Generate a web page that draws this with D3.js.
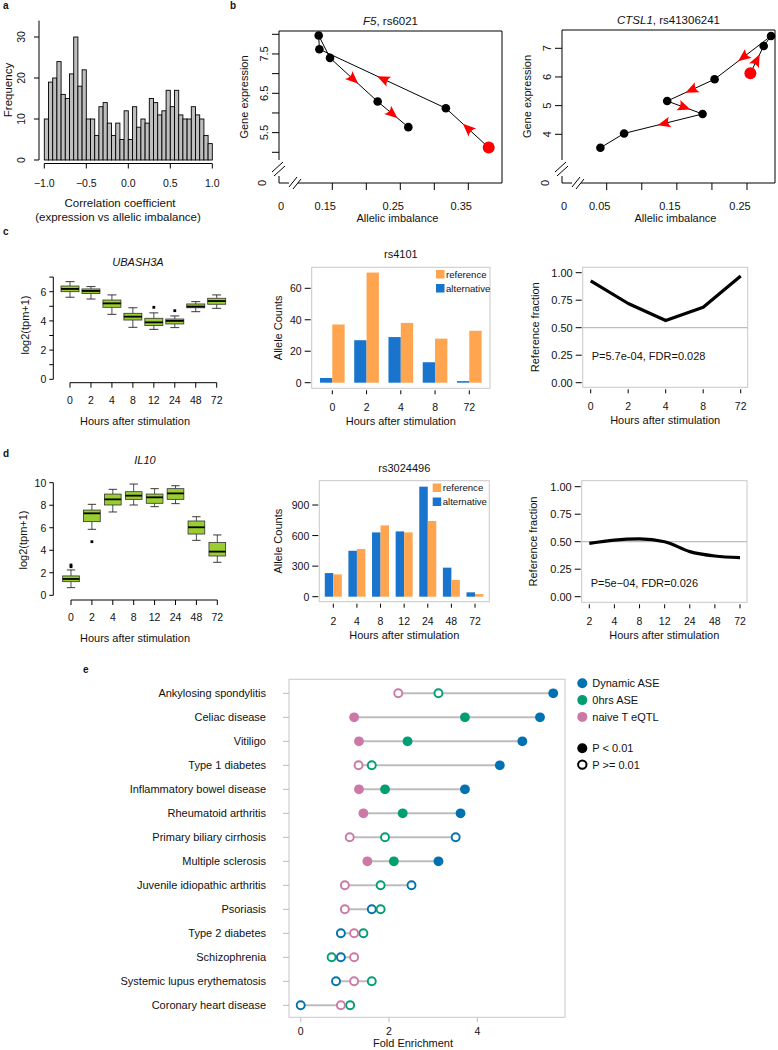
<!DOCTYPE html>
<html><head><meta charset="utf-8">
<script src="https://cdn.jsdelivr.net/npm/d3@7"></script>
<style>body{margin:0;background:#fff}svg{display:block;font-family:"Liberation Sans",Arial,Helvetica,sans-serif}</style>
</head><body><svg id="fig" width="778" height="1050"></svg>
<script>
// ================= DATA =================
// a: histogram of correlation coefficients
const histStart = -1.0, histStep = 0.05;
const histFreq = [10,19,20,24,16,15,21,30,18,22,10,10,6,13,14,9,6,9,5,12,5,13,8,10,9,15,14,11,12,17,13,17,11,10,10,13,11,10,6,4];
const histXTicks = [-1.0,-0.5,0.0,0.5,1.0];
const histYTicks = [0,10,20,30];

// b: trajectories (first point = red start)
const f5Imb  = [0.380,0.317,0.131,0.130,0.1466,0.2167,0.2618];
const f5Expr = [5.12,6.12,7.62,7.97,7.40,6.29,5.64];
const f5Arrow = [true,true,false,false,true,true];
const f5XTicks = [0.15,0.20,0.25,0.30,0.35];
const f5XLabels = [0.15,0.25,0.35];
const f5YTicks = [5.0,5.5,6.0,6.5,7.0,7.5,8.0];
const f5YLabels = [5.5,6.5,7.5];

const ctslImb  = [0.2548,0.2738,0.2843,0.2038,0.1362,0.1867,0.0748,0.041];
const ctslExpr = [6.13,7.08,7.43,5.92,5.16,4.71,4.03,3.53];
const ctslArrow = [true,false,true,true,true,true,false];
const ctslXTicks = [0.05,0.10,0.15,0.20,0.25];
const ctslXLabels = [0.05,0.15,0.25];
const ctslYTicks = [4,5,6,7];

// c/d boxplots
const hours8 = ["0","2","4","8","12","24","48","72"];
const ubLo  = [5.62,5.50,4.45,3.56,3.42,3.54,4.63,4.86];
const ubQ1  = [6.00,5.87,4.93,4.06,3.68,3.79,4.90,5.14];
const ubMed = [6.19,6.05,5.20,4.29,3.90,4.00,4.98,5.36];
const ubQ3  = [6.39,6.19,5.43,4.52,4.18,4.13,5.16,5.55];
const ubHi  = [6.69,6.35,5.78,4.90,4.55,4.34,5.32,5.78];
const ubOut = [[],[],[],[],[4.93],[4.70],[],[]];
const ubYTicks = [0,1,2,3,4,5,6,7];
const ubYLabels = [0,2,4,6];

const ilLo  = [0.68,5.86,7.40,8.02,7.87,8.14,4.88,2.93];
const ilQ1  = [1.21,6.54,8.02,8.52,8.17,8.52,5.44,3.49];
const ilMed = [1.45,7.28,8.52,8.85,8.70,9.05,6.04,3.88];
const ilQ3  = [1.72,7.57,8.99,9.20,8.99,9.47,6.60,4.70];
const ilHi  = [2.25,8.08,9.41,9.88,9.47,9.73,6.98,5.36];
const ilOut = [[2.54,2.69],[4.76],[],[],[],[],[],[]];
const ilYTicks = [0,2,4,6,8,10];

// c/d allele counts
const rs4101Hours = ["0","2","4","8","72"];
const rs4101Ref = [37,70,38,28,33];
const rs4101Alt = [3,27,29,13,1];
const rs4101YTicks = [0,20,40,60];
const rs4101Frac = [0.925,0.72,0.565,0.685,0.97];

const rs3024496Hours = ["2","4","8","12","24","48","72"];
const rs3024496Ref = [219,468,700,631,743,164,26];
const rs3024496Alt = [232,451,631,641,1080,285,43];
const rs3024496YTicks = [0,300,600,900];
const rs3024496Frac = [0.485,0.515,0.525,0.50,0.41,0.37,0.355];
const fracYTicks = [0,0.25,0.5,0.75,1.0];

// e: enrichment
const diseases = ["Ankylosing spondylitis","Celiac disease","Vitiligo","Type 1 diabetes","Inflammatory bowel disease","Rheumatoid arthritis","Primary biliary cirrhosis","Multiple sclerosis","Juvenile idiopathic arthritis","Psoriasis","Type 2 diabetes","Schizophrenia","Systemic lupus erythematosis","Coronary heart disease"];
const dynamicASE = [5.72,5.42,5.02,4.51,3.72,3.62,3.51,3.12,2.51,1.61,0.91,0.91,0.80,0.00];
const dynamicSig = [1,1,1,1,1,1,0,1,0,0,0,0,0,0];
const hrs0ASE    = [3.12,3.72,2.42,1.61,1.91,2.31,1.91,2.11,1.81,1.81,1.42,0.70,1.61,1.12];
const hrs0Sig    = [0,1,1,0,1,1,0,1,0,0,0,0,0,0];
const naiveEQTL  = [2.21,1.21,1.32,1.31,1.32,1.42,1.11,1.51,1.00,1.00,1.21,1.21,1.21,0.91];
const naiveSig   = [0,1,1,0,1,1,0,1,0,0,0,0,0,0];
const seriesNames = ["Dynamic ASE","0hrs ASE","naive T eQTL"];
const seriesColors = ["#0072B2","#009E73","#CC79A7"];
const eXTicks = [0,2,4];

// ================= HELPERS =================
const svg = d3.select("#fig");
svg.append("rect").attr("width",778).attr("height",1050).attr("fill","#fff");

function txt(g,x,y,s,o={}){
  const t=g.append("text").attr("x",x).attr("y",y).text(s)
    .attr("font-size",o.size||11).attr("fill",o.fill||"#111")
    .attr("text-anchor",o.anchor||"middle");
  if(o.italic) t.attr("font-style","italic");
  if(o.bold) t.attr("font-weight","bold");
  if(o.rotate) t.attr("x",null).attr("y",null).attr("transform",`translate(${x},${y}) rotate(-90)`);
  if(o.baseline) t.attr("dominant-baseline",o.baseline);
  return t;
}
function line(g,x1,y1,x2,y2,c="#000",w=1){
  return g.append("line").attr("x1",x1).attr("y1",y1).attr("x2",x2).attr("y2",y2).attr("stroke",c).attr("stroke-width",w);
}
// left axis ticks (R style)
function yTicks(g,scale,ticks,x,o={}){
  const len=o.len||5, gap=o.gap||3, labs=o.labels||ticks;
  ticks.forEach(t=>{
    const y=scale(t);
    line(g,x-len,y,x-(o.inset||0),y,o.color||"#000");
    if(labs.includes(t)){
      const s=o.fmt?o.fmt(t):String(t);
      if(o.rotate) txt(g,x-len-gap,y,s,{size:o.size||10.5,rotate:true});
      else txt(g,x-len-gap,y,s,{size:o.size||10.5,anchor:"end",baseline:"central"});
    }
  });
}
function xTicks(g,scale,ticks,y,o={}){
  const len=o.len||5, labs=o.labels||ticks;
  ticks.forEach(t=>{
    const x=scale(t);
    line(g,x,y+(o.inset||0),x,y+len,o.color||"#000");
    if(labs.includes(t)){
      const s=o.fmt?o.fmt(t):String(t);
      txt(g,x+(o.dx||0),o.labelY,s,{size:o.size||10.5});
    }
  });
}

// ================= PANEL LABELS =================
[["a",3,9],["b",230,9],["c",3,235],["d",3,457],["e",83,673]].forEach(([s,x,y])=>txt(svg,x,y,s,{bold:true,size:10,anchor:"start"}));

// ================= PANEL A =================
{
  const g=svg.append("g");
  const x=d3.scaleLinear().domain([-1,1]).range([44.3,212.3]);
  const y=d3.scaleLinear().domain([0,10]).range([160,119]);
  g.selectAll("rect.h").data(histFreq).join("rect")
    .attr("x",(d,i)=>x(histStart+i*histStep)).attr("width",x(histStep)-x(0))
    .attr("y",d=>y(d)).attr("height",d=>y(0)-y(d))
    .attr("fill","#bebebe").attr("stroke","#000").attr("stroke-width",0.9);
  line(g,x(-1),163.5,x(1),163.5);
  xTicks(g,x,histXTicks,163.5,{len:5,labelY:187,fmt:d3.format(".1f"),size:10.5});
  line(g,39,y(0),39,y(34));
  yTicks(g,y,histYTicks,39,{len:5,gap:9,rotate:true,size:10.5});
  txt(g,12,90,"Frequency",{rotate:true,size:11.5});
  txt(g,120,207,"Correlation coefficient",{size:11.5});
  txt(g,118,221,"(expression vs allelic imbalance)",{size:11.5});
}

// ================= PANEL B =================
function arrowHead(g,x,y,ang){
  g.append("path").attr("d","M6,0 L-7,-5.5 Q-3,0 -7,5.5 Z")
    .attr("transform",`translate(${x},${y}) rotate(${ang*180/Math.PI})`).attr("fill","#ff0000");
}
function trajPanel(o){
  const g=svg.append("g");
  const {bx0,bx1,by0,by1,x,y}=o;
  // box with broken axes
  line(g,bx0,by0,bx1,by0); line(g,bx1,by0,bx1,by1); line(g,bx0+19,by1,bx1,by1);
  line(g,bx0,by0,bx0,by1-23);
  line(g,bx0,by1-7,bx0,by1); line(g,bx0,by1,bx0+10,by1);
  line(g,bx0-7,by1-11,bx0+4,by1-21); line(g,bx0-5,by1-7,bx0+6,by1-17);
  line(g,bx0+10,by1+4,bx0+18,by1-6); line(g,bx0+14,by1+6,bx0+22,by1-4);
  txt(g,bx0-13,by1,"0",{size:11,rotate:true});
  txt(g,bx0+2,by1+27,"0",{size:11});
  yTicks(g,y,o.yt,bx0,{len:7,gap:4,rotate:true,labels:o.yl,size:11,fmt:o.yfmt});
  xTicks(g,x,o.xt,by1,{len:7,labelY:by1+27,labels:o.xl,dx:-7,size:11});
  txt(g,(bx0+bx1)/2+7,by1+39,"Allelic imbalance",{size:11});
  txt(g,o.ylabX,(by0+by1)/2-10,"Gene expression",{size:11,rotate:true});
  const t=g.append("text").attr("x",(bx0+bx1)/2).attr("y",by0-6).attr("text-anchor","middle").attr("font-size",11.5).attr("fill","#111");
  t.append("tspan").attr("font-style","italic").text(o.gene); t.append("tspan").text(", "+o.snp);
  const pts=o.imb.map((v,i)=>[x(v),y(o.expr[i])]);
  g.append("path").attr("d",d3.line()(pts)).attr("fill","none").attr("stroke","#000").attr("stroke-width",1);
  o.arrows.forEach((a,i)=>{
    if(!a) return;
    const [x1,y1]=pts[i],[x2,y2]=pts[i+1];
    arrowHead(g,(x1+x2)/2,(y1+y2)/2,Math.atan2(y2-y1,x2-x1));
  });
  g.selectAll("circle.p").data(pts.slice(1)).join("circle").attr("cx",d=>d[0]).attr("cy",d=>d[1]).attr("r",4.3).attr("fill","#000");
  g.append("circle").attr("cx",pts[0][0]).attr("cy",pts[0][1]).attr("r",6).attr("fill","#ff0000");
}
trajPanel({bx0:279,bx1:502,by0:31,by1:183,
  x:d3.scaleLinear().domain([0.15,0.35]).range([332.3,468.3]),
  y:d3.scaleLinear().domain([5,8]).range([152.3,34.3]),
  xt:f5XTicks,xl:f5XLabels,yt:f5YTicks,yl:f5YLabels,yfmt:d3.format(".1f"),
  imb:f5Imb,expr:f5Expr,arrows:f5Arrow,gene:"F5",snp:"rs6021",ylabX:248});
trajPanel({bx0:562,bx1:775,by0:30,by1:183,
  x:d3.scaleLinear().domain([0.05,0.25]).range([606.7,747]),
  y:d3.scaleLinear().domain([4,7]).range([134.3,48.3]),
  xt:ctslXTicks,xl:ctslXLabels,yt:ctslYTicks,yl:ctslYTicks,
  imb:ctslImb,expr:ctslExpr,arrows:ctslArrow,gene:"CTSL1",snp:"rs41306241",ylabX:531});

// ================= BOXPLOTS =================
function boxPanel(o){
  const g=svg.append("g");
  const x=d3.scalePoint().domain(hours8).range(o.xr);
  const y=o.y;
  const bw=o.bw;
  hours8.forEach((h,i)=>{
    const cx=x(h);
    line(g,cx,y(o.hi[i]),cx,y(o.q3[i]),"#222",0.8);
    line(g,cx,y(o.lo[i]),cx,y(o.q1[i]),"#222",0.8);
    line(g,cx-bw/4,y(o.hi[i]),cx+bw/4,y(o.hi[i]),"#222",0.9);
    line(g,cx-bw/4,y(o.lo[i]),cx+bw/4,y(o.lo[i]),"#222",0.9);
    g.append("rect").attr("x",cx-bw/2).attr("width",bw).attr("y",y(o.q3[i])).attr("height",y(o.q1[i])-y(o.q3[i]))
      .attr("fill","#9acd32").attr("stroke","#333").attr("stroke-width",0.8);
    line(g,cx-bw/2,y(o.med[i]),cx+bw/2,y(o.med[i]),"#000",1.8);
    o.out[i].forEach(v=>g.append("rect").attr("x",cx-1.4).attr("y",y(v)-1.4).attr("width",2.8).attr("height",2.8).attr("fill","#000"));
  });
  line(g,o.ax,y(o.yt[0]),o.ax,y(o.yt[o.yt.length-1]));
  yTicks(g,y,o.yt,o.ax,{len:4,gap:3,labels:o.yl,size:10.5});
  line(g,x(hours8[0]),o.xy,x(hours8[7]),o.xy);
  xTicks(g,x,hours8,o.xy,{len:5,labelY:o.xy+21,size:10.5});
  txt(g,o.title[0],o.title[1],o.gene,{italic:true,size:11});
  txt(g,o.ylab[0],o.ylab[1],"log2(tpm+1)",{rotate:true,size:11});
  txt(g,135,o.xy+42,"Hours after stimulation",{size:11});
}
boxPanel({xr:[70,216.7],y:d3.scaleLinear().domain([0,7]).range([379.3,277.1]),bw:18,
  lo:ubLo,q1:ubQ1,med:ubMed,q3:ubQ3,hi:ubHi,out:ubOut,yt:ubYTicks,yl:ubYLabels,
  ax:53.3,xy:382.7,gene:"UBASH3A",title:[138,266],ylab:[29,325]});
boxPanel({xr:[71,217.3],y:d3.scaleLinear().domain([0,10]).range([595.3,482.7]),bw:16.7,
  lo:ilLo,q1:ilQ1,med:ilMed,q3:ilQ3,hi:ilHi,out:ilOut,yt:ilYTicks,yl:ilYTicks,
  ax:53.3,xy:600,gene:"IL10",title:[145,464],ylab:[27,540]});

// ================= ALLELE COUNT BARS =================
function barPanel(o){
  const g=svg.append("g");
  const x=d3.scalePoint().domain(o.hours).range(o.xr);
  const y=o.y;
  const bw=(o.xr[1]-o.xr[0])/(o.hours.length-1)*0.36;
  g.selectAll("rect.alt").data(o.alt).join("rect").attr("x",(d,i)=>x(o.hours[i])-bw).attr("width",bw)
    .attr("y",d=>y(d)).attr("height",d=>y(0)-y(d)).attr("fill","#1874CD");
  g.selectAll("rect.ref").data(o.ref).join("rect").attr("x",(d,i)=>x(o.hours[i])).attr("width",bw)
    .attr("y",d=>y(d)).attr("height",d=>y(0)-y(d)).attr("fill","#FFA54F");
  g.append("rect").attr("x",o.box[0]).attr("y",o.box[2]).attr("width",o.box[1]-o.box[0]).attr("height",o.box[3]-o.box[2])
    .attr("fill","none").attr("stroke","#c8c8c8").attr("stroke-width",1);
  yTicks(g,y,o.yt,o.box[0]-1,{len:6,gap:3,size:10.5});
  xTicks(g,x,o.hours,o.box[3],{len:6,inset:2,labelY:o.box[3]+23,size:10.5});
  txt(g,(o.box[0]+o.box[1])/2,o.box[2]-9,o.snp,{size:11});
  txt(g,o.ylabX,(o.box[2]+o.box[3])/2,"Allele Counts",{rotate:true,size:11});
  txt(g,(o.box[0]+o.box[1])/2,o.box[3]+37,"Hours after stimulation",{size:11});
  const lg=[["reference","#FFA54F"],["alternative","#1874CD"]];
  lg.forEach(([s,c],i)=>{
    g.append("rect").attr("x",o.leg[0]).attr("y",o.leg[1]+i*14).attr("width",8.5).attr("height",8.5).attr("fill",c);
    txt(g,o.leg[0]+10,o.leg[1]+i*14+7.5,s,{size:9.6,anchor:"start"});
  });
}
barPanel({hours:rs4101Hours,ref:rs4101Ref,alt:rs4101Alt,xr:[332.3,469.3],
  y:d3.scaleLinear().domain([0,60]).range([382.7,288.3]),box:[311.7,490,267.3,388.3],
  yt:rs4101YTicks,snp:"rs4101",ylabX:282,leg:[436,270]});
barPanel({hours:rs3024496Hours,ref:rs3024496Ref,alt:rs3024496Alt,xr:[333.3,475],
  y:d3.scaleLinear().domain([0,900]).range([596.7,505]),box:[319.3,489.3,480.7,601.7],
  yt:rs3024496YTicks,snp:"rs3024496",ylabX:282,leg:[432.7,483.5]});

// ================= REFERENCE FRACTION =================
function fracPanel(o){
  const g=svg.append("g");
  const x=d3.scalePoint().domain(o.hours).range(o.xr);
  const y=o.y;
  g.append("rect").attr("x",o.box[0]).attr("y",o.box[2]).attr("width",o.box[1]-o.box[0]).attr("height",o.box[3]-o.box[2])
    .attr("fill","none").attr("stroke","#c8c8c8").attr("stroke-width",1);
  line(g,o.box[0],y(0.5),o.box[1],y(0.5),"#bdbdbd",1.2);
  g.append("path").attr("d",d3.line().x((d,i)=>x(o.hours[i])).y(d=>y(d)).curve(o.curve)(o.frac))
    .attr("fill","none").attr("stroke","#000").attr("stroke-width",3.2).attr("stroke-linejoin","round");
  yTicks(g,y,fracYTicks,o.box[0]-1,{len:6,gap:3,size:11,fmt:d3.format(".2f")});
  xTicks(g,x,o.hours,o.box[3],{len:6,inset:2,labelY:o.box[3]+23,size:10.5});
  txt(g,(o.box[0]+o.box[1])/2,o.box[3]+37,"Hours after stimulation",{size:11});
  txt(g,o.ylabX,(o.box[2]+o.box[3])/2,"Reference fraction",{rotate:true,size:11});
  txt(g,o.box[0]+9,o.pY,o.ptxt,{size:11,anchor:"start"});
}
fracPanel({hours:rs4101Hours,frac:rs4101Frac,xr:[590.7,740.7],y:d3.scaleLinear().domain([0,1]).range([382.7,272.7]),
  box:[582.7,747.7,267.3,387.3],ylabX:539,pY:360,ptxt:"P=5.7e-04, FDR=0.028",curve:d3.curveLinear});
fracPanel({hours:rs3024496Hours,frac:rs3024496Frac,xr:[589.3,740],y:d3.scaleLinear().domain([0,1]).range([596.7,486.7]),
  box:[581.7,747,480.7,602.3],ylabX:537,pY:586.5,ptxt:"P=5e\u221204, FDR=0.026",curve:d3.curveMonotoneX});

// ================= PANEL E =================
{
  const g=svg.append("g");
  const x=d3.scaleLinear().domain([0,4]).range([300.7,477.3]);
  const y=d3.scalePoint().domain(diseases).range([693.3,1005.3]);
  const box=[289,565,679.3,1017.3];
  g.append("rect").attr("x",box[0]).attr("y",box[2]).attr("width",box[1]-box[0]).attr("height",box[3]-box[2])
    .attr("fill","none").attr("stroke","#c8c8c8").attr("stroke-width",1);
  const series=[[dynamicASE,dynamicSig],[hrs0ASE,hrs0Sig],[naiveEQTL,naiveSig]];
  diseases.forEach((d,i)=>{
    const vals=series.map(s=>s[0][i]);
    line(g,x(d3.min(vals)),y(d),x(d3.max(vals)),y(d),"#bdbdbd",2);
    line(g,box[0]-6,y(d),box[0],y(d),"#bdbdbd",1);
    txt(g,266,y(d),d,{size:11,anchor:"end",baseline:"central"});
  });
  series.forEach(([v,s],k)=>{
    g.selectAll(null).data(diseases).join("circle")
      .attr("cx",(d,i)=>x(v[i])).attr("cy",d=>y(d))
      .attr("r",(d,i)=>s[i]?4.9:4.0)
      .attr("fill",(d,i)=>s[i]?seriesColors[k]:"#fff")
      .attr("stroke",seriesColors[k]).attr("stroke-width",(d,i)=>s[i]?0:1.9);
  });
  eXTicks.forEach(t=>{
    line(g,x(t),box[3],x(t),box[3]+5,"#bdbdbd",1);
    txt(g,x(t),box[3]+18,String(t),{size:10.5});
  });
  txt(g,413,1047,"Fold Enrichment",{size:11});
  // legend
  seriesNames.forEach((s,k)=>{
    g.append("circle").attr("cx",582.3).attr("cy",683.3+k*16.8).attr("r",5).attr("fill",seriesColors[k]);
    txt(g,592.3,683.3+k*16.8,s,{size:11,anchor:"start",baseline:"central"});
  });
  g.append("circle").attr("cx",582.3).attr("cy",748.3).attr("r",5).attr("fill","#000");
  txt(g,592.3,748.3,"P < 0.01",{size:11,anchor:"start",baseline:"central"});
  g.append("circle").attr("cx",582.3).attr("cy",764.6).attr("r",4.2).attr("fill","#fff").attr("stroke","#000").attr("stroke-width",2);
  txt(g,592.3,764.6,"P >= 0.01",{size:11,anchor:"start",baseline:"central"});
}
</script></body></html>
